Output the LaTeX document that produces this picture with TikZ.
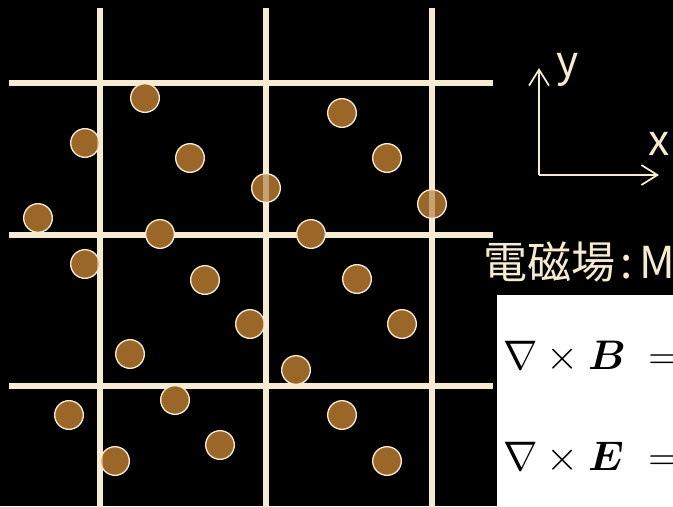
\RequirePackage{fix-cm}
\documentclass[tikz,border=0pt]{standalone}
\usepackage{amsmath}
\usepackage{fontspec}
\newfontfamily\jpfont{Noto Sans CJK JP}
\usepackage{tikz}
\usetikzlibrary{arrows.meta}
\definecolor{gridcream}{HTML}{F6EAD0}
\definecolor{dotbrown}{HTML}{9A6728}

\begin{document}
\begin{tikzpicture}[
  x=0.75pt, y=-0.75pt,
  gridline/.style={line width=4pt, gridcream},
  dot/.style={circle, minimum size=21.5pt, inner sep=0pt,
    fill=dotbrown, draw=gridcream, line width=1pt},
  axis/.style={-{Straight Barb[length=12pt, width=15pt, line width=1.3pt]},
    line width=1.3pt, gridcream},
  lbl/.style={font=\jpfont\fontsize{33}{38}\selectfont, text=gridcream,
    inner sep=0pt, anchor=base west},
  eqn/.style={font=\fontsize{31}{36}\selectfont, inner sep=0pt, anchor=base west},
]
  \useasboundingbox (0,0) rectangle (673,506);
  \clip (0,0) rectangle (673,506);
  \fill[black] (0,0) rectangle (673,506);

  % ── Grid ─────────────────────────────────────────────────────────────
  \foreach \gy in {83,235,386}
    \draw[gridline] (9,\gy) -- (493,\gy);
  \foreach \gx in {100,266,432}
    \draw[gridline] (\gx,8) -- (\gx,510);

  % ── Particles ────────────────────────────────────────────────────────
  \foreach \px/\py [count=\i] in {145/98, 85/143, 190/158, 342/113, 387/158,
      266/188, 38/218, 160/234, 311/234, 432/204, 85/264, 205/280, 357/279,
      250/324, 402/324, 130/354, 296/370, 175/400, 69/415, 342/415,
      220/445, 115/461, 387/461}
    \node[dot] (p\i) at (\px,\py) {};
  \foreach \gx in {100,266,432}
    \draw[gridline, opacity=0.45] (\gx,8) -- (\gx,510);

  % ── Axes ─────────────────────────────────────────────────────────────
  \coordinate (O)    at (539,175);
  \coordinate (yend) at (539,68);
  \coordinate (xend) at (659,175);
  \draw[axis] (O) -- (yend);
  \draw[axis] (O) -- (xend);
  \node[lbl, font=\jpfont\fontsize{32}{36}\selectfont] (ylbl) at (556,77) {y};
  \node[lbl, font=\jpfont\fontsize{32}{36}\selectfont] (xlbl) at (648,155) {x};

  % ── Field equations ──────────────────────────────────────────────────
  \node[lbl] (title) at (483,278) {電磁場\kern4pt:\kern5ptM};
  \fill[white] (497,295) rectangle (680,510);
  \node[eqn] (curlB) at (503,369) {$\nabla\times\boldsymbol{B}$};
  \node[eqn] (eqB)   at (648,369) {$=$};
  \node[eqn] (curlE) at (503,470) {$\nabla\times\boldsymbol{E}$};
  \node[eqn] (eqE)   at (648,470) {$=$};
\end{tikzpicture}
\end{document}
